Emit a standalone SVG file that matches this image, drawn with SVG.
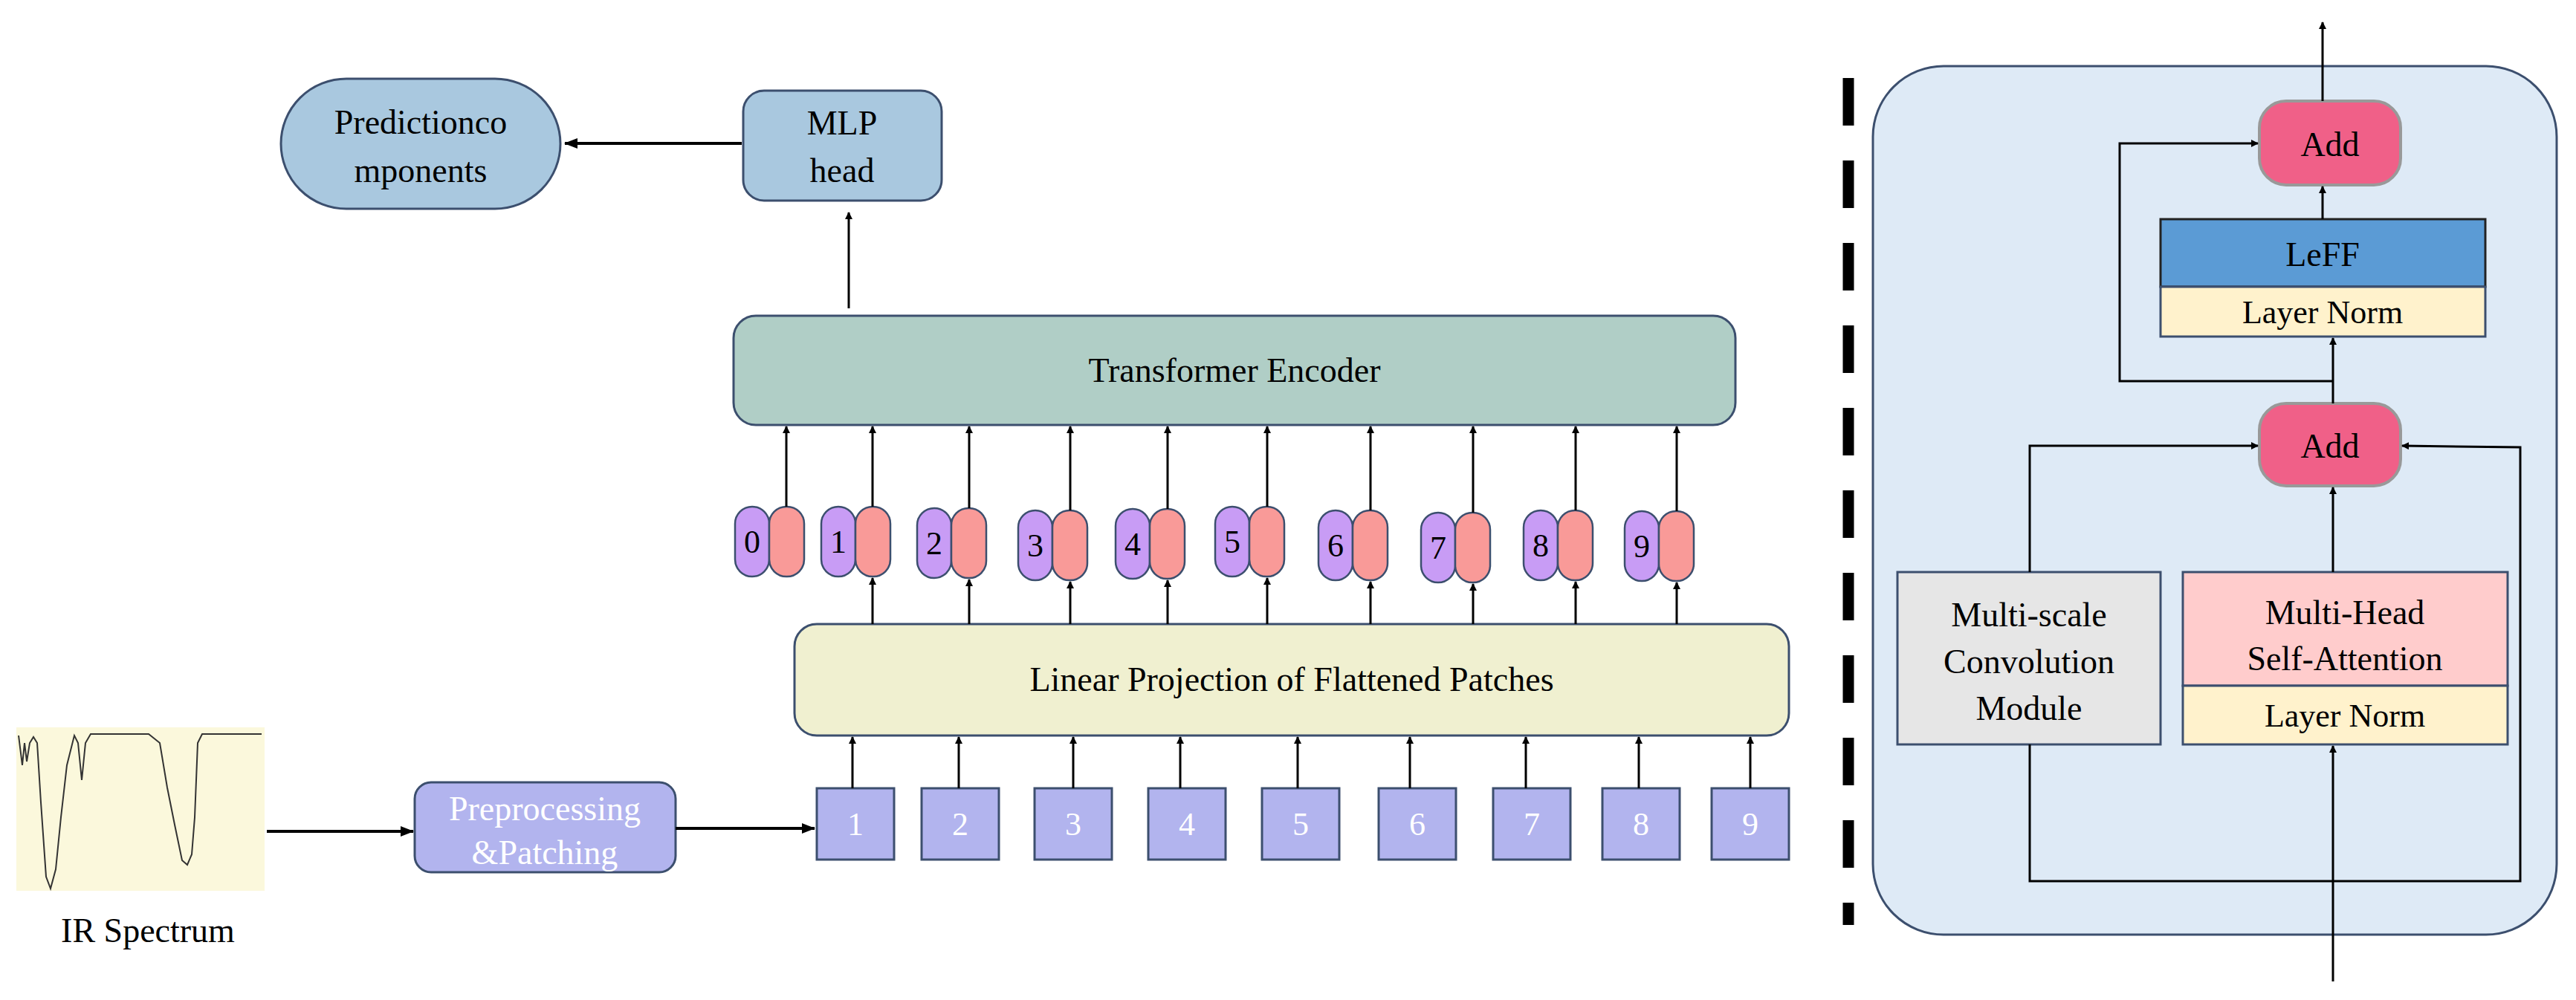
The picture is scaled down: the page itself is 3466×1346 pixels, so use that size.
<svg xmlns="http://www.w3.org/2000/svg" width="3466" height="1346" viewBox="0 0 3466 1346">
<defs>
<marker id="ah" markerWidth="10" markerHeight="10" refX="9" refY="5" orient="auto" markerUnits="userSpaceOnUse" viewBox="0 0 10 10"><path d="M0,0 L10,5 L0,10 z" fill="#000"/></marker>
<marker id="ahs" markerWidth="18" markerHeight="14" refX="17" refY="7" orient="auto" markerUnits="userSpaceOnUse" viewBox="0 0 18 14"><path d="M0,0 L18,7 L0,14 z" fill="#000"/></marker>
<style>
text{font-family:"Liberation Serif","Times New Roman",serif;text-anchor:middle;fill:#000}
.t{font-size:46px}
.n{font-size:44px}
.w{fill:#fff}
.b{stroke:#3c4f6e;stroke-width:3}
.c{fill:none;stroke:#000;stroke-width:3}
.ct{fill:none;stroke:#000;stroke-width:4}
.pu{fill:#c89cf5;stroke:#3c4f6e;stroke-width:2.5}
.pk{fill:#f99a98;stroke:#3c4f6e;stroke-width:2.5}
.pa{fill:#b2b4ee;stroke:#3c4f6e;stroke-width:3}
.add{fill:#f06088;stroke:#999;stroke-width:4}
</style>
</defs>
<rect width="3466" height="1346" fill="#fff"/>
<g id="panel"><rect x="2520" y="89" width="920" height="1169" rx="95" fill="#deeaf6" stroke="#3c4f6e" stroke-width="3"/></g>
<g id="divider"><line x1="2487" y1="105" x2="2487" y2="1245" stroke="#000" stroke-width="15" stroke-dasharray="64 47"/></g>
<g id="spectrum">
<rect x="22" y="979" width="334" height="220" fill="#fbf8dc"/>
<path d="M25,990 L30,1030 L33,1000 L36,1025 L40,1000 L45,992 L50,1000 L55,1080 L62,1180 L68,1196 L75,1170 L82,1100 L90,1030 L100,990 L105,1000 L110,1050 L115,1000 L122,988 L150,988 L200,988 L215,1000 L225,1060 L235,1110 L245,1158 L252,1164 L258,1150 L262,1100 L266,1000 L272,988 L352,988" fill="none" stroke="#333" stroke-width="2"/>
<text x="199" y="1268" class="t">IR Spectrum</text>
</g>
<g id="prediction"><rect x="378" y="106" width="376" height="175" rx="88" fill="#a9c8df" class="b"/><text x="566" y="180" class="t">Predictionco</text><text x="566" y="245" class="t">mponents</text></g>
<g id="mlp"><rect x="1000" y="122" width="267" height="148" rx="28" fill="#a9c8df" class="b"/><text x="1133" y="181" class="t">MLP</text><text x="1133" y="245" class="t">head</text></g>
<g id="transformer"><rect x="987" y="425" width="1348" height="147" rx="30" fill="#b0cec6" class="b"/><text x="1661" y="514" class="t">Transformer Encoder</text></g>
<g id="linear"><rect x="1069" y="840" width="1338" height="150" rx="30" fill="#f0f0d0" class="b"/><text x="1738" y="930" class="t">Linear Projection of Flattened Patches</text></g>
<g id="preproc"><rect x="558" y="1053" width="351" height="121" rx="22" fill="#b2b4ee" class="b"/><text x="733" y="1104" class="t w">Preprocessing</text><text x="733" y="1163" class="t w">&amp;Patching</text></g>
<g id="patches">
<rect x="1099" y="1061" width="104" height="96" class="pa"/><text x="1151" y="1124" class="n w">1</text>
<rect x="1240" y="1061" width="104" height="96" class="pa"/><text x="1292" y="1124" class="n w">2</text>
<rect x="1392" y="1061" width="104" height="96" class="pa"/><text x="1444" y="1124" class="n w">3</text>
<rect x="1545" y="1061" width="104" height="96" class="pa"/><text x="1597" y="1124" class="n w">4</text>
<rect x="1698" y="1061" width="104" height="96" class="pa"/><text x="1750" y="1124" class="n w">5</text>
<rect x="1855" y="1061" width="104" height="96" class="pa"/><text x="1907" y="1124" class="n w">6</text>
<rect x="2009" y="1061" width="104" height="96" class="pa"/><text x="2061" y="1124" class="n w">7</text>
<rect x="2156" y="1061" width="104" height="96" class="pa"/><text x="2208" y="1124" class="n w">8</text>
<rect x="2303" y="1061" width="104" height="96" class="pa"/><text x="2355" y="1124" class="n w">9</text>
</g>
<g id="tokens">
<g transform="translate(989,682)"><rect x="0" width="46" height="94" rx="23" class="pu"/><rect x="46" width="47" height="94" rx="23" class="pk"/><text x="23" y="62" class="n">0</text></g>
<g transform="translate(1105,682)"><rect x="0" width="46" height="94" rx="23" class="pu"/><rect x="46" width="47" height="94" rx="23" class="pk"/><text x="23" y="62" class="n">1</text></g>
<g transform="translate(1234,684)"><rect x="0" width="46" height="94" rx="23" class="pu"/><rect x="46" width="47" height="94" rx="23" class="pk"/><text x="23" y="62" class="n">2</text></g>
<g transform="translate(1370,687)"><rect x="0" width="46" height="94" rx="23" class="pu"/><rect x="46" width="47" height="94" rx="23" class="pk"/><text x="23" y="62" class="n">3</text></g>
<g transform="translate(1501,685)"><rect x="0" width="46" height="94" rx="23" class="pu"/><rect x="46" width="47" height="94" rx="23" class="pk"/><text x="23" y="62" class="n">4</text></g>
<g transform="translate(1635,682)"><rect x="0" width="46" height="94" rx="23" class="pu"/><rect x="46" width="47" height="94" rx="23" class="pk"/><text x="23" y="62" class="n">5</text></g>
<g transform="translate(1774,687)"><rect x="0" width="46" height="94" rx="23" class="pu"/><rect x="46" width="47" height="94" rx="23" class="pk"/><text x="23" y="62" class="n">6</text></g>
<g transform="translate(1912,690)"><rect x="0" width="46" height="94" rx="23" class="pu"/><rect x="46" width="47" height="94" rx="23" class="pk"/><text x="23" y="62" class="n">7</text></g>
<g transform="translate(2050,687)"><rect x="0" width="46" height="94" rx="23" class="pu"/><rect x="46" width="47" height="94" rx="23" class="pk"/><text x="23" y="62" class="n">8</text></g>
<g transform="translate(2186,688)"><rect x="0" width="46" height="94" rx="23" class="pu"/><rect x="46" width="47" height="94" rx="23" class="pk"/><text x="23" y="62" class="n">9</text></g>
</g>
<g id="add2"><rect x="3040" y="136" width="190" height="113" rx="36" class="add"/><text x="3135" y="210" class="t">Add</text></g>
<g id="leff"><rect x="2907" y="295" width="437" height="91" fill="#5b9bd5" stroke="#222" stroke-width="3"/><text x="3125" y="358" class="t">LeFF</text></g>
<g id="ln2"><rect x="2907" y="386" width="437" height="67" fill="#fff2cc" stroke="#3c4f6e" stroke-width="3"/><text x="3125" y="435" class="n">Layer Norm</text></g>
<g id="add1"><rect x="3040" y="543" width="190" height="111" rx="36" class="add"/><text x="3135" y="616" class="t">Add</text></g>
<g id="conv"><rect x="2553" y="770" width="354" height="232" fill="#e6e6e6" stroke="#3c4f6e" stroke-width="3"/><text x="2730" y="843" class="t">Multi-scale</text><text x="2730" y="906" class="t">Convolution</text><text x="2730" y="969" class="t">Module</text></g>
<g id="mhsa"><rect x="2937" y="770" width="437" height="153" fill="#ffcccc" stroke="#3c4f6e" stroke-width="3"/><text x="3155" y="840" class="t">Multi-Head</text><text x="3155" y="902" class="t">Self-Attention</text></g>
<g id="ln1"><rect x="2937" y="923" width="437" height="79" fill="#fff2cc" stroke="#3c4f6e" stroke-width="3"/><text x="3155" y="978" class="n">Layer Norm</text></g>
<g id="connectors">
<line x1="998" y1="193" x2="760" y2="193" class="ct" marker-end="url(#ahs)"/>
<line x1="1142" y1="415" x2="1142" y2="286" class="c" marker-end="url(#ah)"/>
<line x1="359" y1="1119" x2="556" y2="1119" class="ct" marker-end="url(#ahs)"/>
<line x1="909" y1="1115" x2="1096" y2="1115" class="ct" marker-end="url(#ahs)"/>
<g class="c" marker-end="url(#ah)">
<line x1="1058" y1="682" x2="1058" y2="574"/><line x1="1174" y1="682" x2="1174" y2="574"/><line x1="1304" y1="684" x2="1304" y2="574"/><line x1="1440" y1="687" x2="1440" y2="574"/><line x1="1571" y1="685" x2="1571" y2="574"/><line x1="1705" y1="682" x2="1705" y2="574"/><line x1="1844" y1="687" x2="1844" y2="574"/><line x1="1982" y1="690" x2="1982" y2="574"/><line x1="2120" y1="687" x2="2120" y2="574"/><line x1="2256" y1="688" x2="2256" y2="574"/>
<line x1="1174" y1="840" x2="1174" y2="778"/><line x1="1304" y1="840" x2="1304" y2="780"/><line x1="1440" y1="840" x2="1440" y2="783"/><line x1="1571" y1="840" x2="1571" y2="781"/><line x1="1705" y1="840" x2="1705" y2="778"/><line x1="1844" y1="840" x2="1844" y2="783"/><line x1="1982" y1="840" x2="1982" y2="786"/><line x1="2120" y1="840" x2="2120" y2="783"/><line x1="2256" y1="840" x2="2256" y2="784"/>
<line x1="1147" y1="1061" x2="1147" y2="992"/><line x1="1290" y1="1061" x2="1290" y2="992"/><line x1="1444" y1="1061" x2="1444" y2="992"/><line x1="1588" y1="1061" x2="1588" y2="992"/><line x1="1746" y1="1061" x2="1746" y2="992"/><line x1="1897" y1="1061" x2="1897" y2="992"/><line x1="2053" y1="1061" x2="2053" y2="992"/><line x1="2205" y1="1061" x2="2205" y2="992"/><line x1="2355" y1="1061" x2="2355" y2="992"/>
<line x1="3125" y1="136" x2="3125" y2="30"/>
<line x1="3125" y1="295" x2="3125" y2="251"/>
<line x1="3139" y1="543" x2="3139" y2="455"/>
<polyline points="3139,513 2852,513 2852,193 3038,193"/>
<line x1="3139" y1="770" x2="3139" y2="656"/>
<polyline points="2731,770 2731,600 3038,600"/>
<polyline points="2731,1002 2731,1186 3391,1186 3391,602 3232,600"/>
<line x1="3139" y1="1321" x2="3139" y2="1004"/>
</g>
</g>
</svg>
